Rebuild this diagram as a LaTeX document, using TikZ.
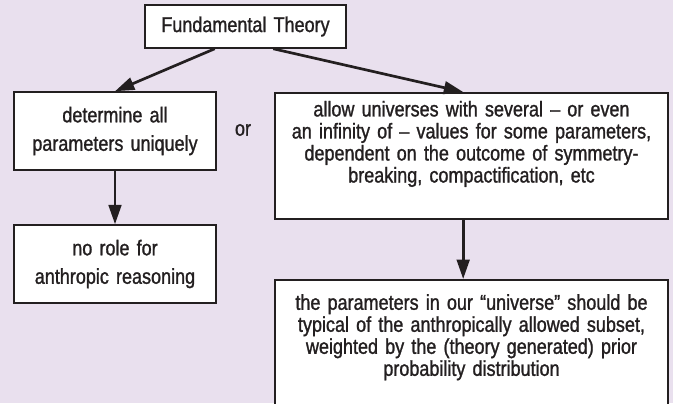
\documentclass[tikz,border=0pt]{standalone}
\usepackage{fontspec}
\setmainfont{Liberation Sans}[FakeStretch=0.84, FakeBold=1.2]
\usetikzlibrary{arrows.meta, calc}
\definecolor{cbg}{HTML}{E9E0EE}
\definecolor{cink}{HTML}{231F20}
\tikzset{
  every picture/.style={line width=1.2pt},
  box/.style={draw=cink, fill=white, line width=1.3pt, align=center, inner xsep=6pt, inner ysep=0pt, text=cink},
  arrow/.style={-{Triangle[length=5.8mm, width=3.8mm]}, draw=cink, line width=2.3pt},
}
\begin{document}
\begin{tikzpicture}[
    every node/.append style={font=\fontsize{18.3}{18.8}\selectfont},
    small/.style={box, text width=5.64cm, minimum height=2.34cm, font=\fontsize{18.3}{24.3}\selectfont},
    wide/.style={box, text width=11.37cm, anchor=north, inner ysep=0.25cm},
  ]
  \useasboundingbox (0,0) rectangle (20.19,12.09);
  \clip (0,0) rectangle (20.19,12.09);
  \fill[cbg] (0,0) rectangle (20.19,12.09);

  % theory
  \node[box, text width=5.61cm, minimum height=1.29cm] (theory) at (7.365,11.295) {Fundamental Theory};

  % left branch
  \node[small] (unique) at (3.45,8.16) {determine all\\parameters uniquely};
  \node[small] (norole) at (3.45,4.17) {no role for\\anthropic reasoning};
  \node[text=cink] (or) at (7.29,8.19) {or};

  % right branch
  \node[wide, text height=0.46cm, text depth=2.82cm] (several) at (14.145,9.33)
    {allow universes with several -- or even\\an infinity of -- values for some parameters,\\dependent on the outcome of symmetry-\\breaking, compactification, etc};
  \node[wide, text height=0.65cm, text depth=3cm] (typical) at (14.145,3.72)
    {the parameters in our “universe” should be\\typical of the anthropically allowed subset,\\weighted by the (theory generated) prior\\probability distribution};

  \draw[arrow] ($(theory.south west)!0.348!(theory.south east)$) -- (unique.north);
  \draw[arrow] ($(theory.south west)!0.637!(theory.south east)$) -- ($(several.north)+(-0.25,0)$);
  \draw[arrow] (unique) -- (norole);
  \draw[arrow] ($(several.south)+(-0.25,0)$) -- ($(typical.north)+(-0.25,0)$);
\end{tikzpicture}
\end{document}
